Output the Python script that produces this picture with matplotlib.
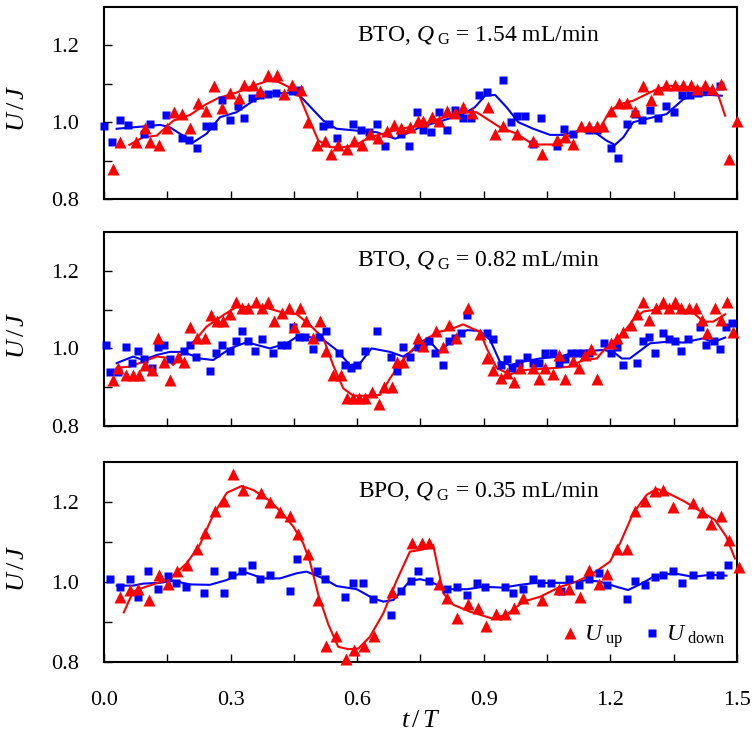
import matplotlib
matplotlib.use("Agg")
import matplotlib.pyplot as plt
from matplotlib.lines import Line2D

plt.rcParams['font.family'] = 'Liberation Serif'
plt.rcParams['mathtext.fontset'] = 'custom'
plt.rcParams['mathtext.rm'] = 'Liberation Serif'
plt.rcParams['mathtext.it'] = 'Liberation Serif:italic'

# ---- panel 1: BTO, QG = 1.54 mL/min ----
t1_down = [0.0, 0.019, 0.038, 0.057, 0.095, 0.109, 0.147, 0.184, 0.202, 0.221, 0.241, 0.259, 0.279, 0.298,
           0.317, 0.331, 0.351, 0.370, 0.389, 0.408, 0.445, 0.463, 0.520, 0.534, 0.553, 0.591, 0.610, 0.629,
           0.646, 0.665, 0.703, 0.722, 0.741, 0.757, 0.775, 0.794, 0.813, 0.831, 0.850, 0.869, 0.888, 0.907,
           0.945, 0.964, 0.978, 0.997, 1.016, 1.035, 1.073, 1.091, 1.111, 1.149, 1.168, 1.201, 1.219, 1.239,
           1.258, 1.275, 1.294, 1.313, 1.332, 1.351, 1.370, 1.389, 1.408, 1.427, 1.460]
u1_down = [0.989, 0.948, 1.006, 0.994, 0.968, 0.995, 1.020, 0.959, 0.954, 0.934, 0.990, 0.990, 1.057, 1.007,
           1.042, 1.011, 1.063, 1.070, 1.073, 1.077, 1.080, 1.083, 0.989, 0.996, 0.959, 0.996, 0.980, 0.975,
           0.996, 0.939, 0.970, 0.939, 1.026, 0.980, 0.974, 1.027, 0.981, 1.033, 1.011, 1.011, 1.072, 1.079,
           1.109, 1.001, 1.016, 1.016, 0.944, 1.011, 0.939, 0.982, 0.970, 0.980, 0.980, 0.934, 0.908, 0.996,
           1.021, 1.006, 1.032, 1.011, 1.042, 1.027, 1.072, 1.072, 1.077, 1.082, 1.093]
t1_up = [0.021, 0.039, 0.077, 0.097, 0.109, 0.130, 0.149, 0.167, 0.186, 0.205, 0.223, 0.242, 0.261, 0.280,
         0.299, 0.319, 0.332, 0.352, 0.370, 0.389, 0.409, 0.427, 0.446, 0.466, 0.484, 0.504, 0.524, 0.537,
         0.555, 0.575, 0.593, 0.612, 0.630, 0.650, 0.670, 0.688, 0.705, 0.725, 0.743, 0.757, 0.777, 0.795,
         0.814, 0.833, 0.851, 0.871, 0.909, 0.927, 0.946, 0.979, 1.017, 1.037, 1.073, 1.093, 1.112, 1.131,
         1.150, 1.168, 1.183, 1.201, 1.220, 1.239, 1.258, 1.277, 1.296, 1.314, 1.333, 1.352, 1.371, 1.390,
         1.406, 1.424, 1.442, 1.462, 1.482, 1.501]
u1_up = [0.878, 0.948, 0.948, 0.985, 0.948, 0.940, 0.985, 1.027, 1.021, 0.985, 1.049, 1.028, 1.094, 1.037,
         1.076, 1.064, 1.096, 1.096, 1.082, 1.122, 1.122, 1.073, 1.096, 1.084, 1.000, 0.941, 0.951, 0.918,
         0.941, 0.929, 0.951, 0.940, 0.970, 0.958, 0.978, 0.993, 0.985, 0.987, 1.004, 1.002, 1.014, 1.002,
         1.028, 1.023, 1.040, 1.023, 1.040, 0.968, 0.989, 0.968, 0.952, 0.916, 0.954, 0.961, 0.942, 0.989,
         0.989, 0.989, 0.989, 1.030, 1.049, 1.049, 1.030, 1.095, 1.058, 1.086, 1.096, 1.096, 1.096, 1.096,
         1.086, 1.096, 1.086, 1.100, 0.903, 1.002]
# smoothed curves
f1_down_t = [0.030, 0.094, 0.133, 0.156, 0.180, 0.212, 0.243, 0.275, 0.314, 0.354, 0.393, 0.441, 0.464, 0.520,
             0.551, 0.599, 0.646, 0.690, 0.725, 0.749, 0.796, 0.851, 0.879, 0.903, 0.927, 0.954, 0.982, 1.017,
             1.057, 1.088, 1.128, 1.163, 1.191, 1.211, 1.231, 1.254, 1.302, 1.333, 1.373, 1.396, 1.436, 1.464]
f1_down_u = [0.983, 0.989, 0.993, 0.987, 0.970, 0.948, 0.970, 1.013, 1.026, 1.056, 1.075, 1.076, 1.069, 1.004,
             0.983, 0.978, 0.974, 0.957, 0.974, 0.987, 1.002, 1.021, 1.039, 1.069, 1.071, 1.039, 1.000, 0.983,
             0.967, 0.967, 0.978, 0.974, 0.952, 0.941, 0.961, 1.000, 1.013, 1.021, 1.060, 1.069, 1.071, 1.069]
f1_up_t = [0.060, 0.093, 0.125, 0.164, 0.204, 0.239, 0.271, 0.314, 0.346, 0.386, 0.413, 0.441, 0.463, 0.484,
           0.508, 0.536, 0.567, 0.599, 0.630, 0.662, 0.701, 0.749, 0.780, 0.820, 0.851, 0.883, 0.907, 0.938,
           0.978, 1.017, 1.065, 1.096, 1.128, 1.175, 1.199, 1.223, 1.254, 1.310, 1.341, 1.404, 1.444, 1.456,
           1.472]
f1_up_u = [0.941, 0.961, 0.965, 1.004, 1.019, 1.045, 1.063, 1.077, 1.092, 1.107, 1.105, 1.090, 1.069, 1.013,
           0.952, 0.935, 0.935, 0.942, 0.961, 0.970, 0.983, 0.991, 1.004, 1.017, 1.026, 1.026, 1.009, 0.987,
           0.970, 0.942, 0.942, 0.961, 0.978, 0.984, 1.030, 1.047, 1.056, 1.086, 1.095, 1.089, 1.086, 1.069,
           1.017]

# ---- panel 2: BTO, QG = 0.82 mL/min ----
t2_down = [0.005, 0.014, 0.034, 0.052, 0.066, 0.081, 0.095, 0.114, 0.128, 0.142, 0.156, 0.190, 0.204, 0.218,
           0.251, 0.265, 0.280, 0.299, 0.313, 0.327, 0.341, 0.359, 0.374, 0.401, 0.419, 0.434, 0.449, 0.463,
           0.477, 0.496, 0.510, 0.525, 0.558, 0.572, 0.586, 0.600, 0.619, 0.646, 0.681, 0.695, 0.709, 0.724,
           0.743, 0.757, 0.771, 0.784, 0.804, 0.818, 0.831, 0.845, 0.860, 0.907, 0.921, 0.940, 0.954, 0.968,
           0.983, 1.002, 1.016, 1.030, 1.044, 1.063, 1.078, 1.092, 1.106, 1.120, 1.134, 1.149, 1.186, 1.201,
           1.215, 1.229, 1.262, 1.277, 1.291, 1.305, 1.324, 1.338, 1.352, 1.367, 1.384, 1.412, 1.427, 1.445,
           1.460, 1.474, 1.488]
u2_down = [1.009, 0.940, 0.940, 1.003, 0.963, 0.994, 0.973, 0.950, 1.003, 1.009, 0.973, 0.994, 1.009, 0.977,
           0.942, 0.988, 1.009, 0.994, 1.019, 1.045, 1.019, 0.993, 1.024, 0.989, 1.009, 1.009, 1.055, 1.029,
           1.029, 0.998, 1.029, 1.045, 0.988, 0.957, 0.950, 0.957, 0.993, 1.045, 0.977, 0.942, 1.003, 0.977,
           1.003, 1.011, 1.019, 0.987, 0.957, 1.019, 1.026, 1.039, 1.086, 1.039, 1.023, 0.957, 0.973, 0.950,
           0.963, 0.978, 0.963, 0.963, 0.988, 0.988, 0.963, 0.973, 0.988, 0.988, 0.988, 0.988, 1.013, 0.987,
           1.003, 0.957, 0.963, 1.019, 1.029, 0.988, 1.039, 1.024, 1.019, 0.993, 1.023, 1.055, 1.009, 1.019,
           0.998, 1.055, 1.065]
t2_up = [0.021, 0.034, 0.052, 0.068, 0.082, 0.097, 0.114, 0.129, 0.142, 0.156, 0.176, 0.190, 0.204, 0.221,
         0.239, 0.253, 0.267, 0.281, 0.299, 0.313, 0.327, 0.341, 0.360, 0.374, 0.389, 0.403, 0.422, 0.438,
         0.450, 0.464, 0.479, 0.496, 0.512, 0.525, 0.543, 0.561, 0.575, 0.589, 0.604, 0.619, 0.635, 0.651,
         0.664, 0.682, 0.694, 0.709, 0.743, 0.757, 0.787, 0.804, 0.818, 0.834, 0.863, 0.891, 0.908, 0.923,
         0.940, 0.956, 0.972, 0.986, 1.017, 1.030, 1.046, 1.065, 1.079, 1.093, 1.112, 1.126, 1.141, 1.155,
         1.169, 1.201, 1.215, 1.231, 1.248, 1.264, 1.278, 1.291, 1.307, 1.324, 1.338, 1.354, 1.368, 1.386,
         1.402, 1.416, 1.428, 1.447, 1.463, 1.477, 1.490]
u2_up = [0.918, 0.949, 0.931, 0.931, 0.931, 0.957, 0.944, 1.026, 0.964, 0.918, 0.979, 0.964, 1.056, 1.026,
         1.026, 1.086, 1.071, 1.071, 1.088, 1.119, 1.105, 1.105, 1.119, 1.105, 1.119, 1.071, 1.090, 1.105,
         1.056, 1.105, 1.071, 1.026, 1.071, 0.993, 0.931, 0.931, 0.873, 0.873, 0.873, 0.873, 0.888, 0.856,
         0.901, 0.901, 0.966, 0.966, 1.026, 1.007, 1.045, 1.004, 1.060, 1.026, 1.105, 1.036, 0.974, 0.944,
         0.923, 0.936, 0.913, 0.949, 0.949, 0.921, 0.949, 0.933, 0.983, 0.921, 0.968, 0.949, 0.983, 0.998,
         0.921, 1.013, 1.026, 1.043, 1.060, 1.088, 1.119, 1.073, 1.105, 1.119, 1.105, 1.119, 1.105, 1.105,
         1.105, 1.073, 1.040, 1.105, 1.073, 1.119, 1.043]
f2_down_t = [0.030, 0.069, 0.093, 0.125, 0.156, 0.188, 0.227, 0.259, 0.299, 0.338, 0.393, 0.433, 0.457, 0.488,
             0.520, 0.551, 0.583, 0.607, 0.634, 0.678, 0.709, 0.745, 0.773, 0.796, 0.828, 0.860, 0.891, 0.915,
             0.938, 0.962, 0.994, 1.033, 1.081, 1.120, 1.183, 1.207, 1.227, 1.246, 1.294, 1.333, 1.373, 1.420,
             1.444, 1.472]
f2_down_u = [0.962, 0.979, 0.970, 0.983, 0.991, 0.991, 0.974, 0.970, 1.000, 1.016, 1.000, 1.013, 1.030, 1.029,
             1.022, 0.996, 0.957, 0.962, 1.000, 0.991, 0.979, 1.004, 1.017, 0.989, 1.026, 1.047, 1.045, 1.022,
             0.966, 0.957, 0.966, 0.974, 0.979, 0.991, 0.996, 0.991, 0.974, 0.974, 1.013, 1.017, 1.015, 1.026,
             1.016, 1.028]
f2_up_t = [0.030, 0.062, 0.093, 0.125, 0.149, 0.164, 0.188, 0.220, 0.243, 0.283, 0.314, 0.362, 0.393, 0.425,
           0.457, 0.488, 0.520, 0.543, 0.567, 0.591, 0.622, 0.654, 0.678, 0.705, 0.737, 0.765, 0.796, 0.828,
           0.851, 0.875, 0.891, 0.907, 0.931, 0.962, 0.994, 1.033, 1.073, 1.104, 1.136, 1.168, 1.191, 1.223,
           1.254, 1.278, 1.302, 1.325, 1.357, 1.396, 1.420, 1.444, 1.472]
f2_up_u = [0.950, 0.953, 0.966, 0.979, 0.976, 0.957, 0.991, 1.026, 1.056, 1.086, 1.107, 1.107, 1.102, 1.092,
           1.088, 1.060, 1.026, 0.957, 0.897, 0.878, 0.878, 0.880, 0.923, 0.966, 1.004, 1.026, 1.043, 1.052,
           1.062, 1.050, 1.043, 1.000, 0.949, 0.933, 0.944, 0.947, 0.950, 0.953, 0.970, 0.974, 1.004, 1.030,
           1.073, 1.095, 1.099, 1.103, 1.102, 1.093, 1.069, 1.069, 1.088]

# ---- panel 3: BPO, QG = 0.35 mL/min ----
t3_down = [0.014, 0.038, 0.062, 0.081, 0.104, 0.128, 0.152, 0.171, 0.194, 0.237, 0.261, 0.284, 0.303, 0.327,
           0.351, 0.370, 0.393, 0.441, 0.458, 0.505, 0.524, 0.572, 0.591, 0.614, 0.638, 0.681, 0.705, 0.728,
           0.744, 0.771, 0.812, 0.836, 0.860, 0.883, 0.902, 0.950, 0.969, 0.992, 1.016, 1.035, 1.059, 1.083,
           1.101, 1.125, 1.149, 1.172, 1.191, 1.239, 1.258, 1.281, 1.305, 1.324, 1.348, 1.370, 1.395, 1.436,
           1.460, 1.479]
u3_down = [1.008, 0.988, 1.008, 0.963, 1.028, 0.983, 1.014, 0.998, 0.988, 0.973, 1.028, 0.973, 1.018, 1.028,
           1.043, 1.008, 1.018, 0.978, 1.058, 1.028, 1.008, 0.963, 0.998, 0.998, 0.958, 0.918, 0.978, 1.003,
           1.028, 1.003, 0.983, 0.988, 0.968, 0.998, 0.988, 0.988, 0.973, 0.983, 1.008, 0.998, 0.998, 0.978,
           1.008, 0.993, 1.008, 1.023, 0.993, 0.958, 1.003, 0.993, 1.013, 1.018, 1.028, 0.998, 1.018, 1.018,
           1.018, 1.043]
t3_up = [0.038, 0.062, 0.081, 0.106, 0.130, 0.152, 0.172, 0.196, 0.220, 0.239, 0.262, 0.284, 0.305, 0.329,
         0.371, 0.393, 0.417, 0.441, 0.460, 0.483, 0.507, 0.526, 0.550, 0.573, 0.592, 0.616, 0.640, 0.682,
         0.730, 0.753, 0.771, 0.795, 0.813, 0.837, 0.863, 0.886, 0.905, 0.929, 0.951, 0.972, 0.994, 1.037,
         1.079, 1.103, 1.128, 1.150, 1.172, 1.193, 1.216, 1.240, 1.259, 1.283, 1.306, 1.325, 1.349, 1.396,
         1.417, 1.439, 1.463, 1.482, 1.504]
u3_up = [0.963, 0.980, 0.983, 0.955, 1.018, 0.994, 1.028, 1.043, 1.083, 1.122, 1.178, 1.203, 1.269, 1.230,
         1.223, 1.199, 1.174, 1.166, 1.119, 1.071, 0.955, 0.841, 0.866, 0.808, 0.830, 0.841, 0.866, 0.976,
         1.097, 1.097, 1.097, 0.994, 0.959, 0.911, 0.944, 0.934, 0.891, 0.919, 0.919, 0.934, 0.959, 0.955,
         0.983, 0.983, 0.963, 1.030, 0.994, 1.019, 1.083, 1.083, 1.178, 1.203, 1.228, 1.230, 1.188, 1.197,
         1.174, 1.144, 1.166, 1.105, 1.038]
f3_down_t = [0.030, 0.069, 0.093, 0.133, 0.164, 0.204, 0.251, 0.291, 0.330, 0.378, 0.417, 0.457, 0.480, 0.520,
             0.551, 0.599, 0.638, 0.662, 0.686, 0.725, 0.749, 0.773, 0.812, 0.860, 0.899, 0.946, 0.986, 1.017,
             1.065, 1.104, 1.144, 1.175, 1.215, 1.242, 1.270, 1.302, 1.349, 1.396, 1.436, 1.475]
f3_down_u = [0.991, 0.991, 0.996, 0.998, 1.003, 0.994, 0.993, 1.005, 1.026, 1.009, 1.009, 1.022, 1.026, 1.009,
             0.990, 0.982, 0.959, 0.951, 0.955, 1.003, 1.007, 1.001, 0.982, 0.982, 0.988, 0.986, 0.993, 0.997,
             0.998, 0.998, 1.005, 1.001, 0.988, 0.980, 0.994, 1.013, 1.022, 1.013, 1.018, 1.016]
f3_up_t = [0.047, 0.069, 0.093, 0.125, 0.156, 0.196, 0.227, 0.259, 0.291, 0.326, 0.354, 0.393, 0.425, 0.449,
           0.472, 0.488, 0.508, 0.532, 0.555, 0.579, 0.603, 0.630, 0.662, 0.694, 0.725, 0.749, 0.765, 0.780,
           0.804, 0.828, 0.867, 0.919, 0.954, 0.994, 1.033, 1.081, 1.120, 1.160, 1.199, 1.223, 1.254, 1.286,
           1.310, 1.333, 1.373, 1.412, 1.448, 1.475, 1.495]
f3_up_u = [0.924, 0.976, 0.986, 0.997, 1.008, 1.047, 1.093, 1.168, 1.223, 1.240, 1.230, 1.203, 1.169, 1.138,
           1.097, 1.051, 0.968, 0.893, 0.838, 0.832, 0.834, 0.863, 0.922, 1.005, 1.076, 1.080, 1.084, 1.093,
           0.972, 0.943, 0.926, 0.909, 0.918, 0.951, 0.963, 0.988, 1.001, 1.022, 1.051, 1.097, 1.172, 1.218,
           1.233, 1.224, 1.203, 1.178, 1.155, 1.113, 1.059]

labels = [r'BTO, $Q_{\ \mathrm{G}}$ = 1.54 mL/min',
          r'BTO, $Q_{\ \mathrm{G}}$ = 0.82 mL/min',
          r'BPO, $Q_{\ \mathrm{G}}$ = 0.35 mL/min']

RED = '#ff0000'
BLUE = '#0000ff'

fig = plt.figure(figsize=(7.53, 7.44), dpi=100)
boxes = [[0.1381, 0.7325, 0.8406, 0.2581],
         [0.1381, 0.4274, 0.8406, 0.2608],
         [0.1381, 0.1102, 0.8406, 0.2688]]

panels = [(t1_up, u1_up, t1_down, u1_down, f1_up_t, f1_up_u, f1_down_t, f1_down_u),
          (t2_up, u2_up, t2_down, u2_down, f2_up_t, f2_up_u, f2_down_t, f2_down_u),
          (t3_up, u3_up, t3_down, u3_down, f3_up_t, f3_up_u, f3_down_t, f3_down_u)]

for i, (box, p) in enumerate(zip(boxes, panels)):
    ax = fig.add_axes(box)
    tu, uu, td, ud, fut, fuu, fdt, fdu = p
    ax.plot(fdt, fdu, color=BLUE, lw=1.5, zorder=2)
    ax.plot(fut, fuu, color=RED, lw=1.5, zorder=2)
    ax.plot(td, ud, 's', color=BLUE, ms=5.5, mec='none', clip_on=False, zorder=3)
    ax.plot(tu, uu, '^', color=RED, ms=8, mec='none', clip_on=False, zorder=4)
    ax.set_xlim(0, 1.5)
    ax.set_ylim(0.8, 1.3)
    ax.set_xticks([0.0, 0.3, 0.6, 0.9, 1.2, 1.5])
    ax.set_xticks([0.15, 0.45, 0.75, 1.05, 1.35], minor=True)
    ax.set_yticks([0.8, 1.0, 1.2])
    ax.set_yticks([0.9, 1.1], minor=True)
    ax.tick_params(which='both', direction='in', length=6, width=1, labelsize=16)
    ax.tick_params(axis='y', pad=18)
    ax.tick_params(axis='x', pad=21)
    for s in ax.spines.values():
        s.set_linewidth(1.5)
    if i < 2:
        ax.set_xticklabels([])
    else:
        ax.set_xlabel(r'$t\,/\,T$', fontsize=19, labelpad=0)
    ax.set_ylabel(r'$U\,/\,J$', fontsize=19)
    ax.yaxis.set_label_coords(-0.118, 0.47)
    ax.text(0.592, 0.823, labels[i], transform=ax.transAxes, ha='center', va='baseline', fontsize=17)
    if i == 2:
        handles = [Line2D([], [], marker='^', ls='none', color=RED, ms=8, mec='none'),
                   Line2D([], [], marker='s', ls='none', color=BLUE, ms=5.5, mec='none')]
        ax.legend(handles, [r'$U_{\ \mathrm{up}}$', r'$U_{\ \mathrm{down}}$'], loc='lower right',
                  ncol=2, frameon=False, fontsize=17, handlelength=0.8, handletextpad=0.2,
                  columnspacing=0.8, borderaxespad=0.1)

fig.savefig('out.png', dpi=100)
